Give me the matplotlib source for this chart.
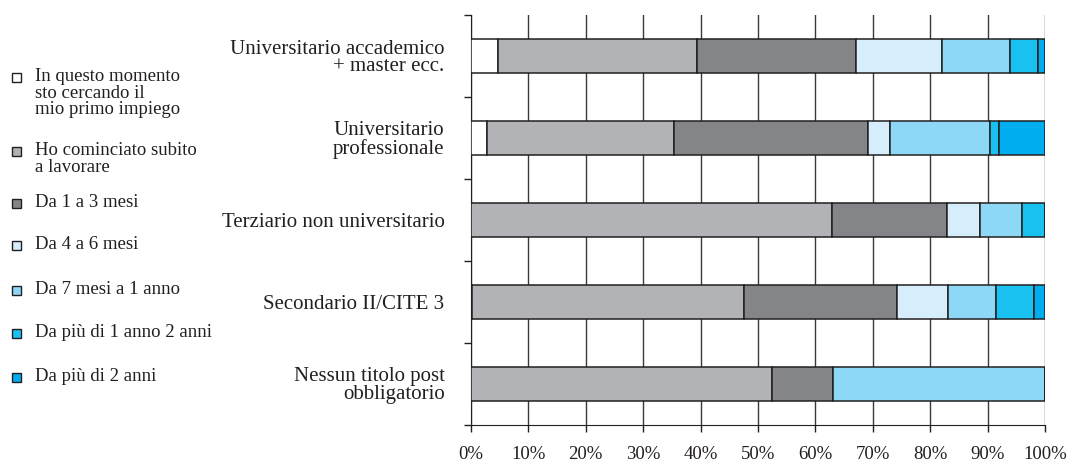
import matplotlib
matplotlib.use("Agg")
import matplotlib.pyplot as plt
import numpy as np
from matplotlib.patches import Rectangle

plt.rcParams['font.family'] = ['Liberation Serif', 'DejaVu Serif']

# categorie (titolo di studio) e serie (tempo per trovare il primo impiego)
titoli = [
    "Universitario accademico\n+ master ecc.",
    "Universitario\nprofessionale",
    "Terziario non universitario",
    "Secondario II/CITE 3",
    "Nessun titolo post\nobbligatorio",
]
serie = [
    "In questo momento\nsto cercando il\nmio primo impiego",
    "Ho cominciato subito\na lavorare",
    "Da 1 a 3 mesi",
    "Da 4 a 6 mesi",
    "Da 7 mesi a 1 anno",
    "Da più di 1 anno 2 anni",
    "Da più di 2 anni",
]
colori = ["#ffffff", "#b2b3b7", "#848589", "#d6edfb", "#8ed8f7", "#19c1f1", "#00aeef"]

# percentuali per titolo, una lista per serie
cercando = [4.7, 2.8, 0.0, 0.2, 0.0]
subito = [34.7, 32.6, 62.9, 47.4, 52.5]
mesi_1_3 = [27.7, 33.8, 20.0, 26.6, 10.6]
mesi_4_6 = [15.0, 3.8, 5.8, 8.9, 0.0]
mesi_7_12 = [11.8, 17.4, 7.3, 8.4, 36.9]
anni_1_2 = [4.9, 1.6, 4.0, 6.6, 0.0]
oltre_2 = [1.2, 8.0, 0.0, 1.9, 0.0]

valori = [cercando, subito, mesi_1_3, mesi_4_6, mesi_7_12, anni_1_2, oltre_2]

fig = plt.figure(figsize=(10.74, 4.62), dpi=100)
ax = fig.add_axes([471 / 1074, 1 - 425 / 462, (1045 - 471) / 1074, (425 - 15) / 462])

y = np.arange(len(titoli))
left = np.zeros(len(titoli))
for vals, col in zip(valori, colori):
    vals = np.array(vals)
    ax.barh(y, vals, left=left, height=0.41, color=col, edgecolor="#231f20",
            linewidth=1.1, zorder=3)
    left += vals

ax.set_xlim(0, 100)
ax.set_ylim(len(titoli) - 0.5, -0.5)
ax.set_xticks(np.arange(0, 101, 10))
ax.set_xticklabels([f"{v}%" for v in range(0, 101, 10)], fontsize=13.5)
ax.set_yticks(y)
ax.set_yticklabels(titoli, fontsize=15, linespacing=0.92)
ax.set_yticks(np.arange(-0.5, len(titoli), 1), minor=True)
ax.tick_params(axis="y", which="major", length=0, pad=19, labelcolor="#231f20")
ax.tick_params(axis="y", which="minor", length=5, width=1, color="#231f20")
ax.tick_params(axis="x", length=5, width=1, color="#231f20", pad=10, labelcolor="#231f20")
ax.grid(axis="x", color="#3a3a3a", linewidth=1, zorder=0)
ax.set_axisbelow(True)
for s in ["top", "right"]:
    ax.spines[s].set_visible(False)
ax.spines["left"].set_color("#231f20")
ax.spines["bottom"].set_color("#231f20")

# legenda a sinistra
pos_y = [77, 151, 203, 245, 290, 333, 377]
for lab, col, py in zip(serie, colori, pos_y):
    fig.patches.append(Rectangle((12 / 1074, 1 - (py + 5) / 462), 9 / 1074, 9 / 462,
                                 transform=fig.transFigure, facecolor=col,
                                 edgecolor="#231f20", linewidth=1))
    fig.text(35 / 1074, 1 - (py - 9) / 462, lab, fontsize=13.5, va="top",
             ha="left", linespacing=0.98, color="#231f20")

fig.savefig("out.png", dpi=100)
